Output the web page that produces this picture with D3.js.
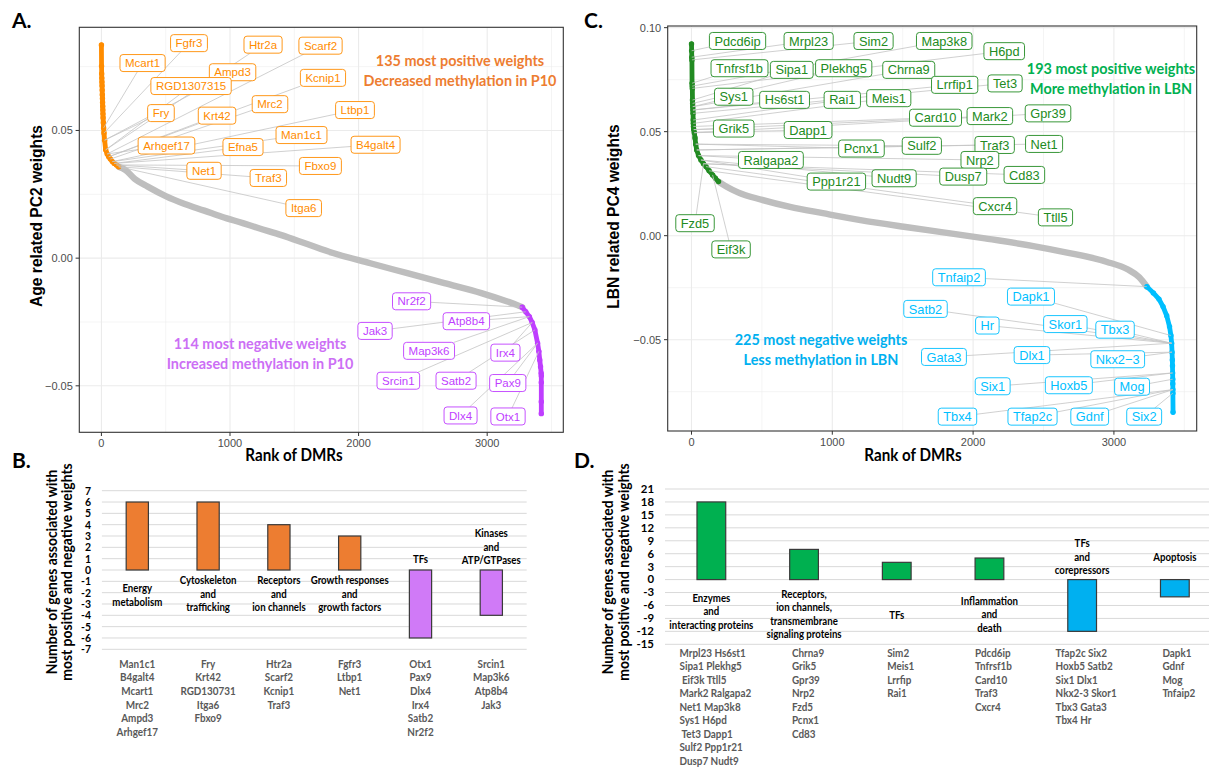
<!DOCTYPE html>
<meta charset="utf-8">
<style>
body { margin: 0; background: #fff; }
svg { display: block; }
.gg { font-family: "Liberation Sans", Arial, sans-serif; }
.cal { font-family: Lato, "Open Sans", sans-serif; font-weight: 700; }
</style>
<body>
<script src="https://d3js.org/d3.v7.min.js"></script>
<script>

// ---- panel A: PC2 weights by rank ----
var topA = [[0,.0835],[1,.0752],[2,.0722],[3,.0705],[4,.0690],[5,.0675],[6,.0658],[7,.0640],[8,.0625],
  [9,.0610],[10,.0595],[11,.0580],[12,.0565],[13,.0550],[15,.0530],[17,.0510],[20,.0490],[25,.0462],
  [33,.0424],[45,.0408],[57,.0397],[70,.0388],[85,.0378],[100,.0371],[117,.0365],[134,.0358]];
var midA = [[134,.0358],[188,.0345],[260,.0310],[360,.0280],[500,.0243],[648,.0212],[800,.0186],
  [936,.0162],[1100,.0137],[1225,.0117],[1400,.0090],[1600,.0055],[1801,.0020],[2091,-.0020],
  [2379,-.0059],[2667,-.0098],[2955,-.0137],[3157,-.0170],[3230,-.0183],[3272,-.0192]];
var botA = [[3272,-.0192],[3300,-.0210],[3328,-.0229],[3350,-.0252],[3371,-.0281],[3392,-.0333],
  [3402,-.0365],[3409,-.0399],[3415,-.0425],[3420,-.0451],[3421,-.0461],[3421,-.0487],[3421,-.0562],[3421,-.0609]];

// gene, index of its point, label rank, label weight
var labTopA = [["Fgfr3",16,681,.0842],["Mcart1",15,320,.0764],["Htr2a",18,1257,.0836],["Scarf2",19,1704,.0832],
  ["Ampd3",17,1020,.0728],["RGD1307315",18,697,.0674],["Kcnip1",20,1723,.0706],["Fry",17,463,.0568],
  ["Krt42",20,899,.0558],["Mrc2",21,1311,.0603],["Ltbp1",22,1972,.0580],["Man1c1",22,1556,.0482],
  ["Arhgef17",19,506,.0441],["Efna5",23,1101,.0435],["B4galt4",23,2132,.0444],["Net1",24,798,.0342],
  ["Fbxo9",24,1703,.0361],["Traf3",25,1298,.0314],["Itga6",25,1573,.0196]];
var labBotA = [["Nr2f2",0,2412,-.0169],["Atp8b4",2,2838,-.0247],["Jak3",1,2128,-.0285],["Map3k6",2,2548,-.0363],
  ["Irx4",3,3142,-.0370],["Srcin1",3,2309,-.0480],["Satb2",4,2758,-.0480],["Pax9",5,3160,-.0489],
  ["Dlx4",5,2793,-.0616],["Otx1",6,3162,-.0620]];

// ---- panel C: PC4 weights by rank ----
var topC = [[0,.0922],[1,.0889],[2,.0858],[3,.0845],[4,.0733],[5,.0719],[6,.0708],[7,.0652],[8,.0636],
  [9,.0620],[10,.0604],[11,.0588],[12,.0556],[13,.0540],[14,.0525],[16,.0510],[20,.0495],[25,.0470],
  [30,.0440],[37,.0412],[50,.0385],[67,.0364],[85,.0346],[103,.0332],[125,.0312],[150,.0292],[170,.0276],[192,.0260]];
var midC = [[192,.0260],[250,.0235],[330,.0208],[502,.0172],[700,.0138],[933,.0108],[1200,.0075],
  [1508,.0043],[1800,.0015],[2084,-.0013],[2428,-.0050],[2658,-.0080],[2946,-.0125],[3100,-.0163],
  [3180,-.0200],[3234,-.0245]];
var botC = [[3234,-.0245],[3280,-.0275],[3320,-.0305],[3349,-.0341],[3375,-.0385],[3395,-.0437],[3405,-.0480],
  [3410,-.0517],[3413,-.0560],[3415,-.0598],[3416,-.0625],[3417,-.0660],[3418,-.0690],[3418,-.0712],
  [3419,-.0740],[3419,-.0757],[3420,-.0849]];

var labTopC = [["Pdcd6ip",1,327,.0936],["Mrpl23",2,832,.0936],["Sim2",3,1293,.0936],["Map3k8",5,1795,.0936],
  ["H6pd",6,2221,.0887],["Tnfrsf1b",4,341,.0805],["Sipa1",7,712,.0797],["Plekhg5",8,1081,.0805],
  ["Chrna9",9,1543,.0797],["Lrrfip1",10,1869,.0725],["Tet3",11,2227,.0732],["Sys1",9,300,.0668],
  ["Hs6st1",10,661,.0653],["Rai1",12,1071,.0653],["Meis1",13,1401,.0661],["Card10",14,1733,.0567],
  ["Mark2",15,2119,.0575],["Gpr39",16,2532,.0588],["Grik5",15,300,.0515],["Dapp1",16,828,.0508],
  ["Pcnx1",18,1207,.0419],["Sulf2",18,1636,.0432],["Traf3",19,2153,.0436],["Net1",19,2504,.0441],
  ["Ralgapa2",20,564,.0364],["Nrp2",20,2048,.0364],["Ppp1r21",21,1029,.0260],["Nudt9",21,1439,.0276],
  ["Dusp7",22,1930,.0284],["Cd83",22,2364,.0292],["Cxcr4",23,2156,.0142],["Ttll5",24,2585,.0088],
  ["Fzd5",22,25,.0060],["Eif3k",25,281,-.0066]];
var labBotC = [["Tnfaip2",0,1900,-.0200],["Dapk1",6,2411,-.0293],["Satb2",7,1662,-.0352],["Hr",7,2101,-.0432],
  ["Skor1",7,2655,-.0425],["Tbx3",7,3008,-.0452],["Gata3",7,1793,-.0583],["Dlx1",8,2418,-.0574],
  ["Nkx2\u22123",8,3027,-.0594],["Six1",11,2139,-.0724],["Hoxb5",11,2680,-.0719],["Mog",12,3129,-.0726],
  ["Tbx4",14,1889,-.0870],["Tfap2c",14,2422,-.0870],["Gdnf",14,2828,-.0870],["Six2",15,3215,-.0870]];

// ---- panel B ----
var catB = [["Energy","metabolism"],["Cytoskeleton","and","trafficking"],["Receptors","and","ion channels"],
  ["Growth responses","and","growth factors"],["TFs"],["Kinases","and","ATP/GTPases"]];
var valB = [6,6,4,3,-6,-4];
var catAtB = [-2.2,-2.1,-2.1,-2.1,0.95,2.05];
var genesB = [["Man1c1","B4galt4","Mcart1","Mrc2","Ampd3","Arhgef17"],["Fry","Krt42","RGD130731","Itga6","Fbxo9"],
  ["Htr2a","Scarf2","Kcnip1","Traf3"],["Fgfr3","Ltbp1","Net1"],["Otx1","Pax9","Dlx4","Irx4","Satb2","Nr2f2"],
  ["Srcin1","Map3k6","Atp8b4","Jak3"]];

// ---- panel D ----
var catD = [["Enzymes","and","interacting proteins"],["Receptors,","ion channels,","transmembrane","signaling proteins"],
  ["TFs"],["Inflammation","and","death"],["TFs","and","corepressors"],["Apoptosis"]];
var valD = [18,7,4,5,-12,-4];
var catAtD = [-7.35,-8,-8.1,-8,5.3,5.25];
var genesD = [["Mrpl23 Hs6st1","Sipa1 Plekhg5"," Eif3k Ttll5","Mark2 Ralgapa2","Net1 Map3k8","Sys1 H6pd",
  " Tet3 Dapp1","Sulf2 Ppp1r21","Dusp7 Nudt9"],["Chrna9","Grik5","Gpr39","Nrp2","Fzd5","Pcnx1","Cd83"],
  ["Sim2","Meis1","Lrrfip","Rai1"],["Pdcd6ip","Tnfrsf1b","Card10","Traf3","Cxcr4"],
  ["Tfap2c Six2","Hoxb5 Satb2","Six1 Dlx1","Nkx2-3 Skor1","Tbx3 Gata3","Tbx4 Hr"],["Dapk1","Gdnf","Mog","Tnfaip2"]];

var svg = d3.select("body").append("svg").attr("width", 1209).attr("height", 782);

// squeeze Lato a little so it sits closer to the Calibri of the original
function calib(sel, f) {
  sel.each(function() {
    var w = this.getComputedTextLength();
    if (w > 0) {
      this.setAttribute("textLength", w * (f || 0.9));
      this.setAttribute("lengthAdjust", "spacingAndGlyphs");
    }
  });
}

function rankPanel(p) {
  var x = d3.scaleLinear().domain(p.xdom).range([p.left, p.right]),
      y = d3.scaleLinear().domain(p.ydom).range([p.bottom, p.top]);
  var g = svg.append("g").attr("class", "gg");

  g.append("g").selectAll("line").data([500, 1500, 2500, 3500]).join("line")
      .attr("x1", x).attr("x2", x).attr("y1", p.top).attr("y2", p.bottom)
      .attr("stroke", "#ebebeb").attr("stroke-width", 0.55);
  g.append("g").selectAll("line").data(p.yMinor).join("line")
      .attr("y1", y).attr("y2", y).attr("x1", p.left).attr("x2", p.right)
      .attr("stroke", "#ebebeb").attr("stroke-width", 0.55);
  g.append("g").selectAll("line").data([0, 1000, 2000, 3000]).join("line")
      .attr("x1", x).attr("x2", x).attr("y1", p.top).attr("y2", p.bottom)
      .attr("stroke", "#ebebeb").attr("stroke-width", 1.1);
  g.append("g").selectAll("line").data(p.yTicks).join("line")
      .attr("y1", y).attr("y2", y).attr("x1", p.left).attr("x2", p.right)
      .attr("stroke", "#ebebeb").attr("stroke-width", 1.1);

  var smooth = d3.line().x(d => x(d[0])).y(d => y(d[1])).curve(d3.curveMonotoneX),
      straight = d3.line().x(d => x(d[0])).y(d => y(d[1]));

  g.append("path").datum(p.mid).attr("d", smooth)
      .attr("fill", "none").attr("stroke", "#bebebe").attr("stroke-width", 6.4)
      .attr("stroke-linecap", "round").attr("stroke-linejoin", "round");

  [[p.topPts, p.colTop], [p.botPts, p.colBot]].forEach(function(s) {
    g.append("path").datum(s[0]).attr("d", straight)
        .attr("fill", "none").attr("stroke", s[1]).attr("stroke-width", 4.8)
        .attr("stroke-linecap", "round").attr("stroke-linejoin", "round");
    g.append("g").selectAll("circle").data(s[0]).join("circle")
        .attr("cx", d => x(d[0])).attr("cy", d => y(d[1])).attr("r", 2.7).attr("fill", s[1]);
  });

  var segs = g.append("g"), labs = g.append("g");
  function addLabels(list, pts, col) {
    list.forEach(function(l) {
      var px = x(pts[l[1]][0]), py = y(pts[l[1]][1]),
          cx = x(l[2]), cy = y(l[3]);
      var t = labs.append("text").attr("x", cx).attr("y", cy).attr("dy", "0.36em")
          .attr("text-anchor", "middle").attr("fill", col)
          .style("font-size", p.labSize + "px").text(l[0]);
      var hw = t.node().getComputedTextLength() / 2 + 5, hh = 8.5;
      labs.insert("rect", () => t.node())
          .attr("x", cx - hw).attr("y", cy - hh).attr("width", 2 * hw).attr("height", 2 * hh)
          .attr("rx", 3).attr("fill", "#fff").attr("stroke", col).attr("stroke-width", 0.9);
      var dx = px - cx, dy = py - cy,
          s = Math.min(dx ? hw / Math.abs(dx) : Infinity, dy ? hh / Math.abs(dy) : Infinity);
      if (s < 1) {
        segs.append("line").attr("x1", cx + dx * s).attr("y1", cy + dy * s).attr("x2", px).attr("y2", py)
            .attr("stroke", "#c4c4c4").attr("stroke-width", 0.8);
      }
    });
  }
  addLabels(p.labTop, p.topPts, p.colTop);
  addLabels(p.labBot, p.botPts, p.colBot);

  g.append("rect").attr("x", p.left).attr("y", p.top)
      .attr("width", p.right - p.left).attr("height", p.bottom - p.top)
      .attr("fill", "none").attr("stroke", "#333").attr("stroke-width", 1.1);

  // axes
  g.append("g").selectAll("line").data([0, 1000, 2000, 3000]).join("line")
      .attr("x1", x).attr("x2", x).attr("y1", p.bottom).attr("y2", p.bottom + 3.7)
      .attr("stroke", "#333").attr("stroke-width", 1);
  g.append("g").selectAll("text").data([0, 1000, 2000, 3000]).join("text")
      .attr("x", x).attr("y", p.bottom + 15).attr("text-anchor", "middle")
      .attr("fill", "#4d4d4d").style("font-size", "11px").text(d => d);
  g.append("g").selectAll("line").data(p.yTicks).join("line")
      .attr("y1", y).attr("y2", y).attr("x1", p.left - 3.7).attr("x2", p.left)
      .attr("stroke", "#333").attr("stroke-width", 1);
  g.append("g").selectAll("text").data(p.yTicks).join("text")
      .attr("x", p.left - 6.5).attr("y", d => y(d) + 4).attr("text-anchor", "end")
      .attr("fill", "#4d4d4d").style("font-size", "11px")
      .text(d => d3.format(".2f")(d).replace("-", "\u2212"));

  g.append("text").attr("transform", "translate(" + p.yTitleX + "," + p.yTitleY + ") rotate(-90)")
      .attr("text-anchor", "middle").attr("dy", "0.35em")
      .style("font-size", "15.6px").style("font-weight", "bold").text(p.yTitle);
  svg.append("text").attr("class", "cal").attr("x", p.xTitleX).attr("y", 461)
      .attr("text-anchor", "middle").style("font-size", "16.5px").text("Rank of DMRs").call(calib, 0.92);

  p.notes.forEach(function(n) {
    svg.append("text").attr("class", "cal").attr("x", n[0]).attr("y", n[1] + 5.5)
        .attr("text-anchor", "middle").attr("fill", n[3]).style("font-size", "15.5px")
        .text(n[2]).call(calib, 0.93);
  });
}

function barPanel(p) {
  var x = d3.scaleBand().domain(d3.range(p.vals.length)).range([p.left, p.right])
      .paddingInner(p.pad).paddingOuter(p.pad / 2);
  var y = d3.scaleLinear().domain(p.ydom).range([p.bottom, p.top]);
  var g = svg.append("g");

  g.append("g").selectAll("line").data(p.ticks).join("line")
      .attr("x1", p.left).attr("x2", p.right).attr("y1", y).attr("y2", y)
      .attr("stroke", "#d9d9d9").attr("stroke-width", 1);
  g.append("g").selectAll("text").data(p.ticks).join("text")
      .attr("class", "cal").attr("x", p.tickX).attr("y", d => y(d) + 3.9).attr("text-anchor", "end")
      .style("font-size", p.tickSize + "px").text(d => d).call(calib, 0.95);

  g.append("g").selectAll("rect").data(p.vals).join("rect")
      .attr("x", (d, i) => x(i)).attr("width", x.bandwidth())
      .attr("y", d => y(Math.max(d, 0))).attr("height", d => Math.abs(y(d) - y(0)))
      .attr("fill", d => d > 0 ? p.colPos : p.colNeg)
      .attr("stroke", "#3a3a3a").attr("stroke-width", 1.2);

  p.cats.forEach(function(lines, i) {
    var cx = x(i) + x.bandwidth() / 2,
        y0 = y(p.catAt[i]) - (lines.length - 1) * 13.4 / 2;
    lines.forEach(function(s, j) {
      g.append("text").attr("class", "cal").attr("x", cx).attr("y", y0 + j * 13.4 + 4)
          .attr("text-anchor", "middle").style("font-size", "11.5px").text(s).call(calib, 0.84);
    });
    var col = g.append("g");
    p.genes[i].forEach(function(s, j) {
      col.append("text").attr("class", "cal").attr("y", p.listY + j * p.listStep)
          .attr("fill", "#595959").style("font-size", "11.5px").style("white-space", "pre")
          .text(s).call(calib, 0.86);
    });
    if (p.listLeft) {
      var w = d3.max(col.selectAll("text").nodes(), n => +n.getAttribute("textLength") || 0);
      col.selectAll("text").attr("x", cx + 4 - w / 2);
    } else {
      col.selectAll("text").attr("x", cx).attr("text-anchor", "middle");
    }
  });

  p.yTitle.forEach(function(s, j) {
    g.append("text").attr("class", "cal")
        .attr("transform", "translate(" + p.yTitleX[j] + "," + p.yTitleY + ") rotate(-90)")
        .attr("text-anchor", "middle").attr("dy", "0.35em").style("font-size", "14.2px")
        .text(s).call(calib, 0.98);
  });
}

var orange = "#ff8c00", purple = "#bf3eff", green = "#228b22", sky = "#00bfff";

rankPanel({
  left: 79.3, right: 563.3, top: 27.3, bottom: 432.3,
  xdom: [-172, 3592], ydom: [-0.0682, 0.0904],
  yTicks: [-0.05, 0, 0.05], yMinor: [-0.025, 0.025, 0.075],
  topPts: topA, mid: midA, botPts: botA, colTop: orange, colBot: purple,
  labTop: labTopA, labBot: labBotA, labSize: 11.5,
  yTitle: "Age related PC2 weights", yTitleX: 37, yTitleY: 216, xTitleX: 294,
  notes: [[460, 60, "135 most positive weights", "#ed7d31"], [460, 80, "Decreased methylation in P10", "#ed7d31"],
          [260, 343, "114 most negative weights", "#cc6ff5"], [260, 363, "Increased methylation in P10", "#cc6ff5"]]
});

rankPanel({
  left: 667.7, right: 1196.7, top: 26, bottom: 431,
  xdom: [-169, 3588], ydom: [-0.0939, 0.1008],
  yTicks: [-0.05, 0, 0.05, 0.10], yMinor: [-0.075, -0.025, 0.025, 0.075],
  topPts: topC, mid: midC, botPts: botC, colTop: green, colBot: sky,
  labTop: labTopC, labBot: labBotC, labSize: 12.8,
  yTitle: "LBN related PC4 weights", yTitleX: 614, yTitleY: 216.5, xTitleX: 913,
  notes: [[1111, 68, "193 most positive weights", "#00b050"], [1111, 88, "More methylation in LBN", "#00b050"],
          [821, 339, "225 most negative weights", "#00b0f0"], [821, 359, "Less methylation in LBN", "#00b0f0"]]
});

barPanel({
  left: 101.9, right: 526.7, top: 490.7, bottom: 649.3, pad: 0.686,
  ydom: [-7, 7], ticks: d3.range(-7, 8), tickX: 91, tickSize: 11,
  vals: valB, cats: catB, catAt: catAtB, genes: genesB, colPos: "#ed7d31", colNeg: "#d07af7",
  listY: 667.5, listStep: 13.7, listLeft: false,
  yTitle: ["Number of genes associated with", "most positive and negative weights"],
  yTitleX: [52, 66.7], yTitleY: 572
});

barPanel({
  left: 665, right: 1221.2, top: 489, bottom: 644.3, pad: 0.69,
  ydom: [-15, 21], ticks: d3.range(-15, 22, 3), tickX: 654, tickSize: 12,
  vals: valD, cats: catD, catAt: catAtD, genes: genesD, colPos: "#00b050", colNeg: "#00b0f0",
  listY: 656.5, listStep: 13.5, listLeft: true,
  yTitle: ["Number of genes associated with", "most positive and negative weights"],
  yTitleX: [608.3, 624.5], yTitleY: 572
});

// panel letters
[["A.", 12, 28], ["B.", 12, 468], ["C.", 584, 28], ["D.", 574, 468]].forEach(function(d) {
  svg.append("text").attr("class", "cal").attr("x", d[1]).attr("y", d[2])
      .style("font-size", "21px").text(d[0]);
});

</script>
